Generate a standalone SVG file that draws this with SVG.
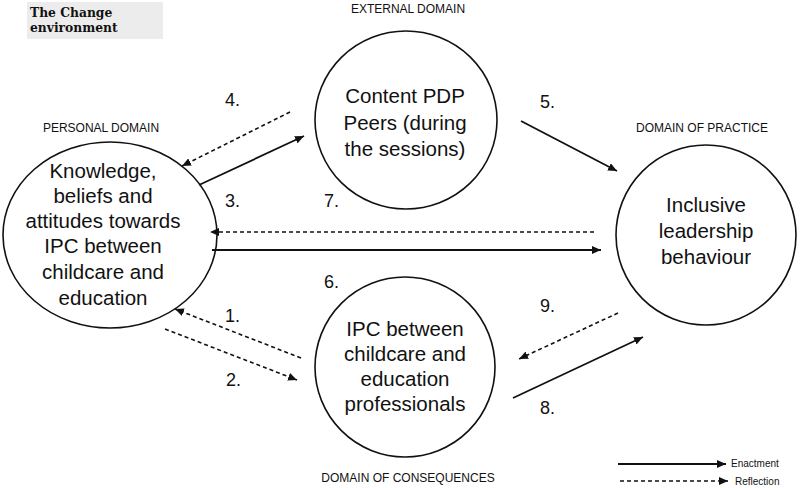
<svg xmlns="http://www.w3.org/2000/svg" width="800" height="488" viewBox="0 0 800 488">
<style>
  .node { fill: #fff; stroke: #111; stroke-width: 1.6; }
  .lbl { font-family: "Liberation Sans", Arial, sans-serif; font-size: 20.5px; fill: #111; text-anchor: middle; }
  .dom { font-family: "Liberation Sans", Arial, sans-serif; font-size: 12px; fill: #111; text-anchor: middle; }
  .num { font-family: "Liberation Sans", Arial, sans-serif; font-size: 18px; fill: #111; }
  .leg { font-family: "Liberation Sans", Arial, sans-serif; font-size: 10px; fill: #111; }
  .solid { stroke: #111; stroke-width: 1.8; fill: none; marker-end: url(#ah); }
  .dash { stroke: #111; stroke-width: 1.6; fill: none; stroke-dasharray: 4 3; marker-end: url(#ah); }
  .title { font-family: "DejaVu Serif", "Liberation Serif", serif; font-weight: bold; font-size: 12.3px; fill: #111; }
</style>
<defs>
  <marker id="ah" markerUnits="userSpaceOnUse" markerWidth="10" markerHeight="8" refX="9" refY="4" orient="auto">
    <path d="M0,0 L9,4 L0,8 Z" fill="#111"/>
  </marker>
</defs>
<rect width="800" height="488" fill="#fff"/>

<g id="title">
  <rect x="27" y="2" width="136" height="37" fill="#ececec"/>
  <text class="title" x="30" y="17">The Change</text>
  <text class="title" x="30" y="32">environment</text>
</g>

<g id="domain-labels">
  <text class="dom" x="101" y="132">PERSONAL DOMAIN</text>
  <text class="dom" x="408" y="13">EXTERNAL DOMAIN</text>
  <text class="dom" x="702" y="132">DOMAIN OF PRACTICE</text>
  <text class="dom" x="408" y="482">DOMAIN OF CONSEQUENCES</text>
</g>

<g id="personal">
  <ellipse class="node" cx="110" cy="235" rx="107" ry="93"/>
  <text class="lbl" x="103" y="178">Knowledge,</text>
  <text class="lbl" x="103" y="203">beliefs and</text>
  <text class="lbl" x="103" y="228">attitudes towards</text>
  <text class="lbl" x="103" y="253">IPC between</text>
  <text class="lbl" x="103" y="279">childcare and</text>
  <text class="lbl" x="103" y="305">education</text>
</g>

<g id="external">
  <ellipse class="node" cx="406" cy="120" rx="91" ry="89"/>
  <text class="lbl" x="405" y="103">Content PDP</text>
  <text class="lbl" x="405" y="130">Peers (during</text>
  <text class="lbl" x="405" y="156">the sessions)</text>
</g>

<g id="practice">
  <circle class="node" cx="706" cy="235" r="90"/>
  <text class="lbl" x="706" y="212">Inclusive</text>
  <text class="lbl" x="706" y="238">leadership</text>
  <text class="lbl" x="706" y="264">behaviour</text>
</g>

<g id="consequences">
  <circle class="node" cx="405" cy="367" r="90"/>
  <text class="lbl" x="405" y="336">IPC between</text>
  <text class="lbl" x="405" y="361">childcare and</text>
  <text class="lbl" x="405" y="386">education</text>
  <text class="lbl" x="405" y="411">professionals</text>
</g>

<g id="connectors">
  <line class="dash" x1="290" y1="112" x2="182" y2="166"/>
  <line class="solid" x1="199" y1="185" x2="304" y2="136"/>
  <line class="solid" x1="521" y1="121" x2="617" y2="171"/>
  <line class="dash" x1="594" y1="232" x2="210" y2="232"/>
  <line class="solid" x1="212" y1="250" x2="601" y2="250"/>
  <line class="dash" x1="301" y1="358" x2="175" y2="309"/>
  <line class="dash" x1="165" y1="329" x2="297" y2="380"/>
  <line class="dash" x1="618" y1="313" x2="519" y2="359"/>
  <line class="solid" x1="513" y1="398" x2="643" y2="337"/>
</g>

<g id="numbers">
  <text class="num" x="225" y="106">4.</text>
  <text class="num" x="225" y="207">3.</text>
  <text class="num" x="540" y="108">5.</text>
  <text class="num" x="324" y="207">7.</text>
  <text class="num" x="324" y="288">6.</text>
  <text class="num" x="225" y="322">1.</text>
  <text class="num" x="226" y="386">2.</text>
  <text class="num" x="540" y="312">9.</text>
  <text class="num" x="540" y="414">8.</text>
</g>

<g id="legend">
  <line class="solid" x1="618" y1="464" x2="726" y2="464"/>
  <text class="leg" x="731" y="467">Enactment</text>
  <line class="dash" x1="620" y1="481" x2="728" y2="481"/>
  <text class="leg" x="735" y="485">Reflection</text>
</g>
</svg>
